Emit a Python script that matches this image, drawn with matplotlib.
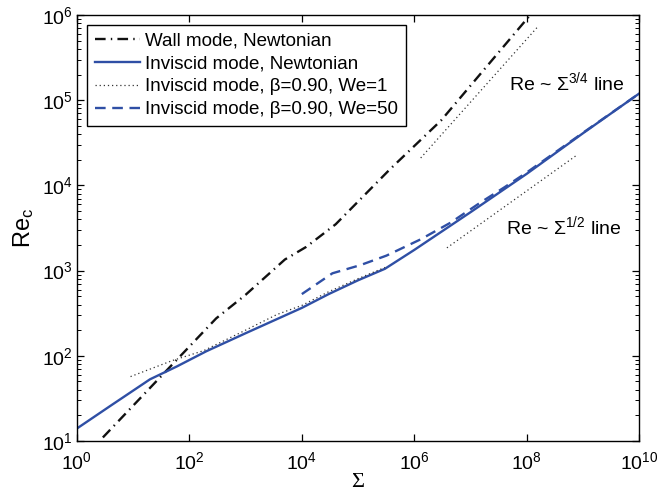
import numpy as np
import matplotlib
matplotlib.use("Agg")
import matplotlib.pyplot as plt
from matplotlib.ticker import LogLocator, NullLocator

plt.rcParams["font.family"] = ["Liberation Sans", "DejaVu Sans"]
plt.rcParams["mathtext.fontset"] = "custom"
plt.rcParams["mathtext.rm"] = "Liberation Sans"
plt.rcParams["mathtext.it"] = "Liberation Sans:italic"

# Wall mode, Newtonian
sigma_wall = [2.9, 300, 1e3, 5e3, 1.2e4, 4e4, 1.2e5, 3.7e5, 3e6, 1.15e8]
re_wall    = [11, 275, 520, 1350, 1900, 3500, 7300, 15500, 58000, 1.0e6]

# Inviscid mode, Newtonian
sigma_inv = [1, 4, 20, 60, 200, 1e3, 1e4, 3e4, 1e5, 3e5, 1e6, 1e7, 1e8, 1e9, 1e10]
re_inv    = [14, 26, 53, 75, 113, 184, 365, 530, 770, 1050, 1750, 4850, 13700, 41000, 120000]

# Inviscid mode, beta=0.90, We=1
sigma_we1 = [9, 50, 180, 1e3, 3.6e3, 1e4, 3e4, 1e5, 3e5]
re_we1    = [57, 88, 115, 200, 305, 390, 565, 805, 1090]

# Inviscid mode, beta=0.90, We=50
sigma_we50 = [1e4, 3.5e4, 1.1e5, 3.2e5, 1.3e6, 4.4e6, 1.5e7, 4e7, 1e8, 1e9, 1e10]
re_we50    = [530, 930, 1160, 1500, 2330, 3650, 6300, 9500, 14200, 41500, 120000]

# reference slopes
sigma_34 = [1.3e6, 1.6e8]
re_34    = [2.1e4, 7.4e5]
sigma_12 = [3.8e6, 8e8]
re_12    = [1850, 2.3e4]

blue = "#2f4fa5"

fig = plt.figure(figsize=(6.57, 4.93), dpi=100)
ax = fig.add_axes([0.117, 0.1055, 0.856, 0.864])

ax.plot(sigma_wall, re_wall, color="#111111", lw=1.7,
        dashes=(4.5, 2.2, 0.6, 2.2), label="Wall mode, Newtonian")
ax.plot(sigma_inv, re_inv, color=blue, lw=1.7, label="Inviscid mode, Newtonian")
ax.plot(sigma_we1, re_we1, color="#333333", lw=0.9, dashes=(1, 2.3),
        label="Inviscid mode, \u03b2=0.90, We=1")
ax.plot(sigma_we50, re_we50, color=blue, lw=1.7, dashes=(4.5, 2.8),
        label="Inviscid mode, \u03b2=0.90, We=50")
ax.plot(sigma_34, re_34, color="#333333", lw=0.9, dashes=(1, 2.3))
ax.plot(sigma_12, re_12, color="#333333", lw=0.9, dashes=(1, 2.3))

ax.set_xscale("log")
ax.set_yscale("log")
ax.set_xlim(1, 1e10)
ax.set_ylim(10, 1e6)

ax.xaxis.set_major_locator(LogLocator(base=100))
ax.xaxis.set_minor_locator(NullLocator())
ax.yaxis.set_major_locator(LogLocator(base=10))
ax.yaxis.set_minor_locator(LogLocator(base=10, subs=np.arange(2, 10)))

ax.tick_params(which="both", direction="in", top=True, right=True,
               labelsize=14, colors="black")
ax.tick_params(axis="x", which="major", pad=7)
ax.tick_params(axis="y", which="major", pad=3)
ax.tick_params(which="major", length=5, width=0.9)
ax.tick_params(which="minor", length=3, width=0.7)
for sp in ax.spines.values():
    sp.set_linewidth(1.0)

ax.set_xlabel("\u03a3", fontsize=16, family=["Liberation Serif", "DejaVu Serif"],
              labelpad=0)
ax.set_ylabel("Re$_{\\mathrm{c}}$", fontsize=17, labelpad=4)

ax.text(0.768, 0.843, "Re ~ \u03a3$^{3/4}$ line", transform=ax.transAxes,
        fontsize=14, va="center", ha="left")
ax.text(0.763, 0.505, "Re ~ \u03a3$^{1/2}$ line", transform=ax.transAxes,
        fontsize=14, va="center", ha="left")

leg = ax.legend(loc="upper left", fontsize=13.5, handlelength=2.4,
                handletextpad=0.3, labelspacing=0.3, borderpad=0.4,
                fancybox=False, framealpha=1, borderaxespad=0.55)
leg.get_frame().set_edgecolor("black")
leg.get_frame().set_linewidth(1.0)

plt.savefig("out.png", dpi=100)
